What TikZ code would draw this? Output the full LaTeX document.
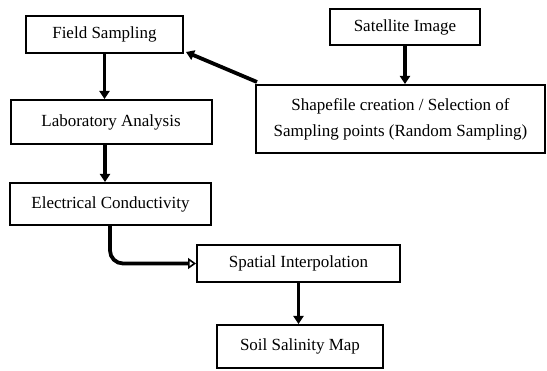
\documentclass[tikz,border=0pt]{standalone}
\usepackage{fontspec}
\setmainfont{Liberation Serif}
\usetikzlibrary{arrows.meta}

\tikzset{
	stagebox/.style={draw, line width=2pt, minimum width=#1, inner sep=2pt, align=center, font=\fontsize{17}{26}\selectfont},
	flow/.style={line width=3.8pt, -{Triangle[length=8pt,width=10pt]}},
	flowopen/.style={line width=3.8pt, rounded corners=13pt, -{Triangle[open,length=8pt,width=11pt,line width=1.6pt]}}
}

\begin{document}
\begin{tikzpicture}[x=1pt,y=-1pt]
		%%%%% START %%%%%
		\useasboundingbox (0, 0) rectangle (547, 371);
		
		\node[stagebox=157pt, minimum height=37pt] (field) at (104.5, 34.5) {Field Sampling};
		\node[stagebox=201pt, minimum height=44pt] (lab) at (111, 122) {Laboratory Analysis};
		\node[stagebox=201pt, minimum height=42pt] (ec) at (110.5, 204) {Electrical Conductivity};
		
		\node[stagebox=150pt, minimum height=36pt] (sat) at (405, 27) {Satellite Image};
		\node[stagebox=289pt, minimum height=68pt] (shape) at (400.5, 119) {Shapefile creation / Selection of\\Sampling points (Random Sampling)};
		
		\node[stagebox=203pt, minimum height=37pt] (spatial) at (298.5, 263.5) {Spatial Interpolation};
		\node[stagebox=166pt, minimum height=43pt] (soil) at (300, 346.5) {Soil Salinity Map};
		
		\draw[flow] (field) -- (field |- lab.north);
		\draw[flow] ([xshift=-6pt]lab.south) -- ([xshift=-6pt]lab.south |- ec.north);
		\draw[flow] (sat) -- (sat |- shape.north);
		\draw[flow] (spatial) -- (spatial |- soil.north);
		\draw[flow] ([xshift=2pt,yshift=2pt]shape.north west) -- ([xshift=2pt,yshift=2pt]field.south east);
		\draw[flowopen] ([xshift=-0.5pt]ec.south) |- (spatial.west);
		%%%%% END %%%%%
	\end{tikzpicture}
\end{document}
